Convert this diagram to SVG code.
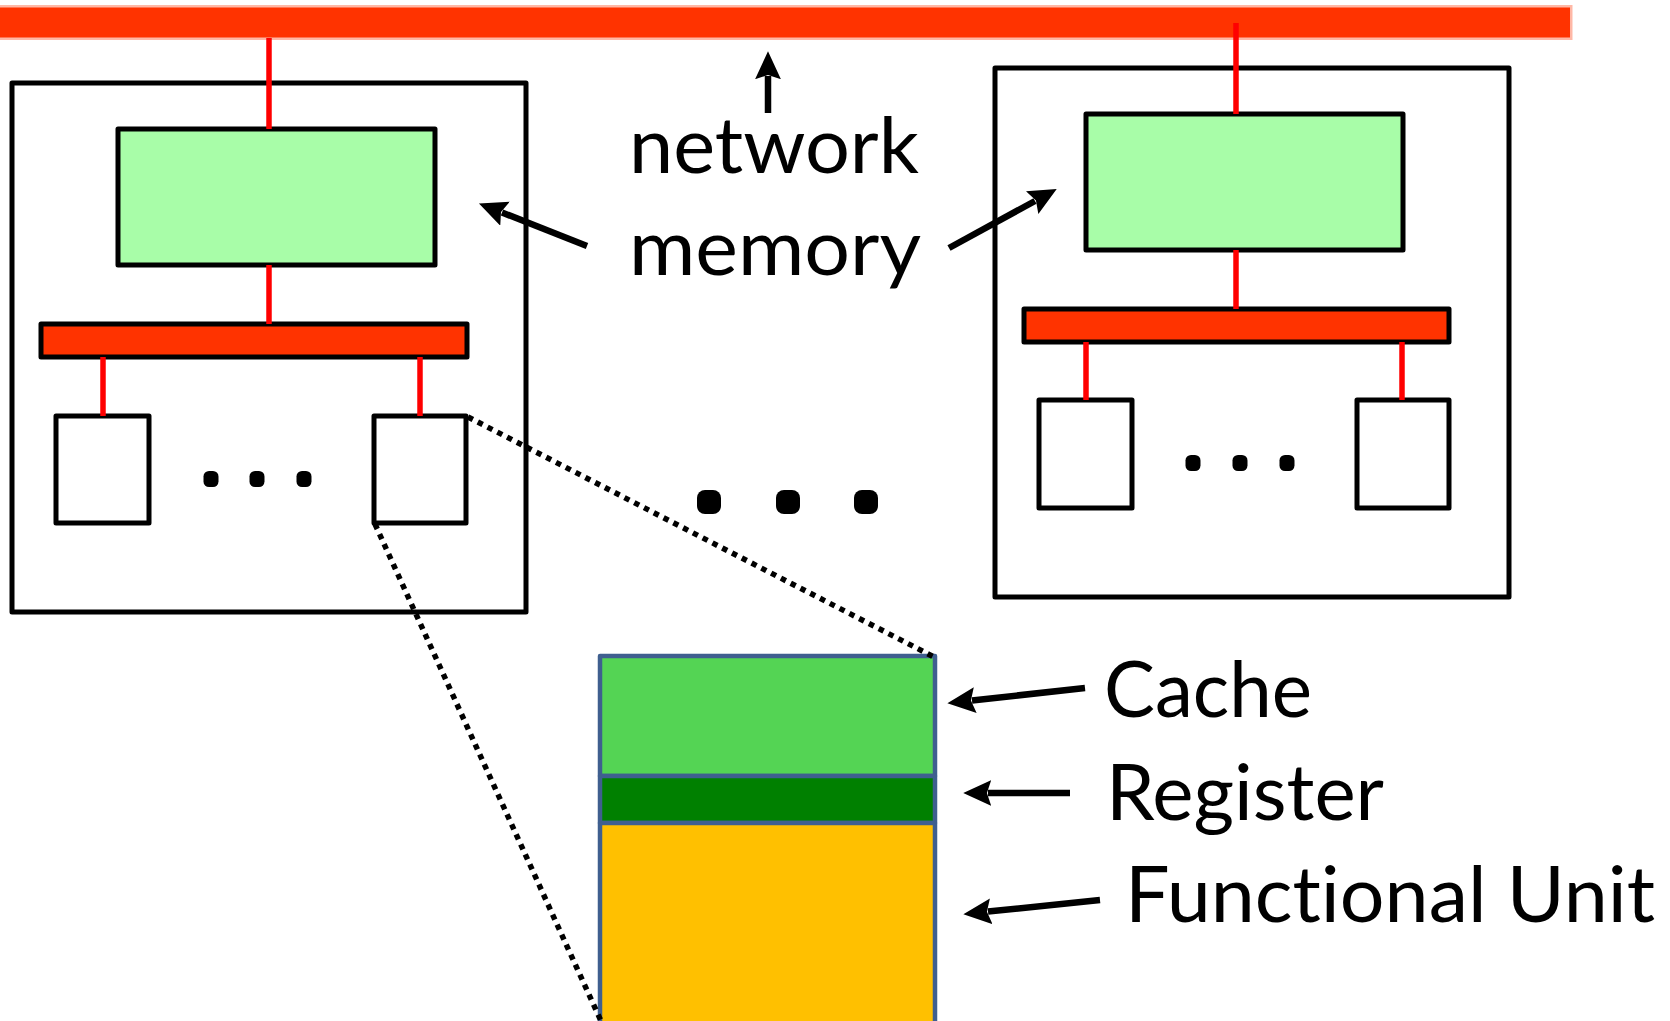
<svg xmlns="http://www.w3.org/2000/svg" width="1670" height="1021" viewBox="0 0 1670 1021">
<style>
.box{fill:#fff;stroke:#000;stroke-width:5;stroke-linejoin:round}
.mem{fill:#a8fda8;stroke:#000;stroke-width:5;stroke-linejoin:round}
.bus{fill:#ff3300;stroke:#000;stroke-width:5;stroke-linejoin:round}
.core{fill:#fff;stroke:#000;stroke-width:5;stroke-linejoin:round}
.wire{stroke:#ff0000;stroke-width:5.5;fill:none}
.arr{stroke:#000;stroke-width:6.5;fill:none;marker-end:url(#ah)}
.dot{stroke:#000;stroke-width:5.5;stroke-dasharray:5.5 5.5;fill:none}
.lbl{font-family:Lato,"Open Sans","Liberation Sans",sans-serif;font-size:77px;fill:#000;font-variant-ligatures:none;font-feature-settings:"liga" 0,"clig" 0,"calt" 0,"dlig" 0}
.fu{stroke:#3f5f8f;stroke-width:4.5;stroke-linejoin:round}
</style>
<defs>
<marker id="ah" markerUnits="userSpaceOnUse" markerWidth="28" markerHeight="26" viewBox="0 0 26 24" refX="3" refY="12" orient="auto">
<path d="M0,0 L26,12 L0,24 L4,12 Z" fill="#000"/>
</marker>
</defs>
<g id="network-bar">
<rect x="-10" y="7.5" width="1580" height="30" fill="#ff3300" stroke="#ff3300" stroke-opacity="0.35" stroke-width="5"/>
</g>
<g id="node-left">
<rect class="box" x="12" y="83" width="514" height="529"/>
</g>
<g id="node-right">
<rect class="box" x="995" y="68" width="514" height="529"/>
</g>
<g id="memory-left"><rect class="mem" x="118" y="129" width="317" height="136"/></g>
<g id="memory-right"><rect class="mem" x="1086" y="114" width="317" height="136"/></g>
<g id="bus-left"><rect class="bus" x="41" y="324" width="426" height="33"/></g>
<g id="bus-right"><rect class="bus" x="1024" y="309" width="425" height="33"/></g>
<g id="core-left-1"><rect class="core" x="56" y="416" width="93" height="107"/></g>
<g id="core-left-n"><rect class="core" x="374" y="416" width="92" height="107"/></g>
<g id="core-right-1"><rect class="core" x="1039" y="400" width="93" height="108"/></g>
<g id="core-right-n"><rect class="core" x="1357" y="400" width="92" height="108"/></g>
<g id="ellipsis-left" fill="#000">
<rect x="203.5" y="471" width="15" height="16" rx="5.5"/>
<rect x="249.5" y="471" width="15" height="16" rx="5.5"/>
<rect x="296.5" y="471" width="15" height="16" rx="5.5"/>
</g>
<g id="ellipsis-right" fill="#000">
<rect x="1185.5" y="455" width="15" height="16" rx="5.5"/>
<rect x="1232.5" y="455" width="15" height="16" rx="5.5"/>
<rect x="1279.5" y="455" width="15" height="16" rx="5.5"/>
</g>
<g id="ellipsis-middle" fill="#000">
<rect x="697" y="490" width="24" height="24" rx="8"/>
<rect x="776" y="490" width="24" height="24" rx="8"/>
<rect x="854" y="490" width="24" height="24" rx="8"/>
</g>
<g id="core-detail">
<rect class="fu" x="600" y="656" width="335" height="120" fill="#54d454"/>
<rect class="fu" x="600" y="776" width="335" height="47" fill="#008000"/>
<rect class="fu" x="600" y="823" width="335" height="210" fill="#ffc000"/>
</g>
<g id="connectors">
<line class="wire" x1="269" y1="38" x2="269" y2="129"/>
<line class="wire" x1="269" y1="265" x2="269" y2="324"/>
<line class="wire" x1="103" y1="357" x2="103" y2="416"/>
<line class="wire" x1="420" y1="357" x2="420" y2="416"/>
<line class="wire" x1="1236" y1="23" x2="1236" y2="114"/>
<line class="wire" x1="1236" y1="250" x2="1236" y2="309"/>
<line class="wire" x1="1086" y1="342" x2="1086" y2="400"/>
<line class="wire" x1="1402" y1="342" x2="1402" y2="400"/>
<line class="dot" x1="468" y1="417" x2="934" y2="657"/>
<line class="dot" x1="375" y1="524" x2="601" y2="1021"/>
<line class="arr" x1="768" y1="113" x2="768" y2="76"/>
<line class="arr" x1="587" y1="246" x2="502" y2="212.5"/>
<line class="arr" x1="949" y1="248" x2="1035" y2="201"/>
<line class="arr" x1="1085" y1="688" x2="972" y2="700.5"/>
<line class="arr" x1="1070" y1="793" x2="988" y2="793"/>
<line class="arr" x1="1100" y1="900" x2="988" y2="911.6"/>
</g>
<g id="labels">
<text class="lbl" x="629" y="173" textLength="290" lengthAdjust="spacingAndGlyphs">network</text>
<text class="lbl" x="629" y="275" textLength="292" lengthAdjust="spacingAndGlyphs">memory</text>
<text class="lbl" x="1104" y="717" textLength="208" lengthAdjust="spacingAndGlyphs">Cache</text>
<text class="lbl" x="1106" y="820" textLength="278" lengthAdjust="spacingAndGlyphs">Register</text>
<text class="lbl" x="1125" y="922" textLength="530" lengthAdjust="spacingAndGlyphs">Functional Unit</text>
</g>
</svg>
